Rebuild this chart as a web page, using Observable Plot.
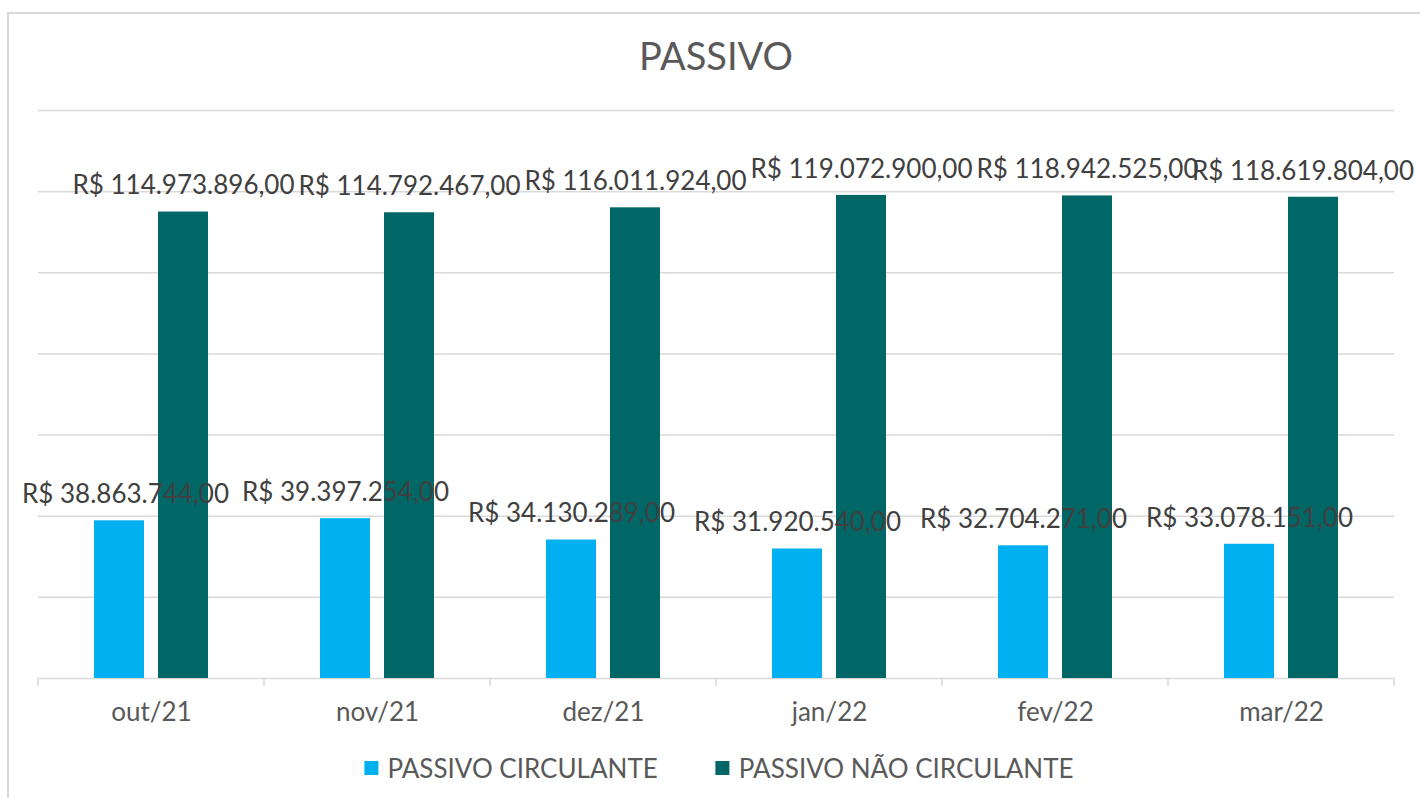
<!DOCTYPE html>
<html>
<head>
<meta charset="utf-8">
<script src="https://cdn.jsdelivr.net/npm/d3@7"></script>
<script src="https://cdn.jsdelivr.net/npm/@observablehq/plot@0.6"></script>
<style>
  body { margin: 0; background: #fff; font-family: Lato, "Open Sans", sans-serif; }
  #wrap { position: relative; width: 1420px; height: 798px; overflow: hidden; background: #fff; }
  #border { position: absolute; left: 7px; top: 12px; width: 1460px; height: 860px; border: 2px solid #d9d9d9; box-sizing: border-box; }
  #title { position: absolute; left: 716px; top: 36px; transform: translateX(-50%); font-size: 38px; line-height: 38px; color: #595959; white-space: nowrap; }
  #chart { position: absolute; left: 0; top: 0; }
  #legend { position: absolute; left: 719px; top: 753px; transform: translateX(-50%); display: flex; align-items: center; white-space: nowrap; font-size: 26px; line-height: 30px; color: #595959; }
  .item { display: flex; align-items: center; }
  .item + .item { margin-left: 58px; }
  .sw { width: 14px; height: 14px; margin-right: 9px; }
</style>
</head>
<body>
<div id="wrap">
  <div id="border"></div>
  <div id="chart"></div>
  <div id="title">PASSIVO</div>
  <div id="legend"></div>
</div>
<script>
const months = ["out/21", "nov/21", "dez/21", "jan/22", "fev/22", "mar/22"];
const series = ["PASSIVO CIRCULANTE", "PASSIVO NÃO CIRCULANTE"];
const circulante = [38863744, 39397254, 34130289, 31920540, 32704271, 33078151];
const naoCirculante = [114973896, 114792467, 116011924, 119072900, 118942525, 118619804];
const yTicks = [0, 20e6, 40e6, 60e6, 80e6, 100e6, 120e6, 140e6];
const colors = ["#00B0F0", "#006666"];

const data = months.flatMap((m, i) => [
  {month: m, serie: series[0], value: circulante[i]},
  {month: m, serie: series[1], value: naoCirculante[i]}
]);

const br = d3.formatLocale({decimal: ",", thousands: ".", grouping: [3], currency: ["R$ ", ""]});
const fmt = br.format("$,.2f");

const chart = Plot.plot({
  width: 1420,
  height: 730,
  marginTop: 110,
  marginBottom: 52,
  marginLeft: 37,
  marginRight: 25,
  style: {fontFamily: "Lato, 'Open Sans', sans-serif", fontSize: "26px", color: "#595959", background: "transparent", overflow: "visible"},
  fx: {domain: months, padding: 0, label: null, axis: "bottom", tickSize: 0, tickPadding: 24},
  x: {domain: series, paddingInner: 0.215, paddingOuter: 0.846, axis: null},
  y: {domain: [0, 140e6], axis: null},
  color: {domain: series, range: colors},
  marks: [
    Plot.ruleY(yTicks, {stroke: "#d9d9d9", strokeWidth: 1.5}),
    Plot.barY(data, {fx: "month", x: "serie", y: "value", fill: "serie"}),
    Plot.text(data, {fx: "month", x: "serie", y: "value", text: d => fmt(d.value), dy: -26, fontSize: 26, fill: "#404040", className: "vlabel"})
  ]
});
document.getElementById("chart").appendChild(chart);

// category boundary ticks below the baseline, placed from Plot's own fx/y scales
const fxs = chart.scale("fx");
const band = d3.scaleBand().domain(fxs.domain).range(fxs.range).paddingInner(fxs.paddingInner ?? 0).paddingOuter(fxs.paddingOuter ?? 0).align(fxs.align ?? 0.5).round(!!fxs.round);
const y0 = chart.scale("y").apply(0);
const bounds = fxs.domain.map(m => band(m)).concat([band(fxs.domain[fxs.domain.length - 1]) + band.bandwidth()]);
d3.select(chart).append("g")
  .selectAll("line").data(bounds).join("line")
  .attr("x1", d => d).attr("x2", d => d)
  .attr("y1", y0).attr("y2", y0 + 8)
  .attr("stroke", "#d9d9d9").attr("stroke-width", 1.5);

// keep data labels inside the chart area (as the spreadsheet does)
const host = chart.getBoundingClientRect();
chart.querySelectorAll("text").forEach(t => {
  const txt = t.textContent || "";
  if (!txt.startsWith("R$")) return;
  const r = t.getBoundingClientRect();
  const left = r.left - host.left, right = r.right - host.left;
  let shift = 0;
  if (right > 1414) shift = 1414 - right;
  else if (left < 22) shift = 22 - left;
  if (shift) {
    const x = parseFloat(t.getAttribute("x") || "0");
    t.setAttribute("x", x + shift);
  }
});

// legend
const legend = d3.select("#legend");
series.forEach((s, i) => {
  const it = legend.append("div").attr("class", "item");
  it.append("div").attr("class", "sw").style("background", colors[i]);
  it.append("span").text(s);
});
</script>
</body>
</html>
